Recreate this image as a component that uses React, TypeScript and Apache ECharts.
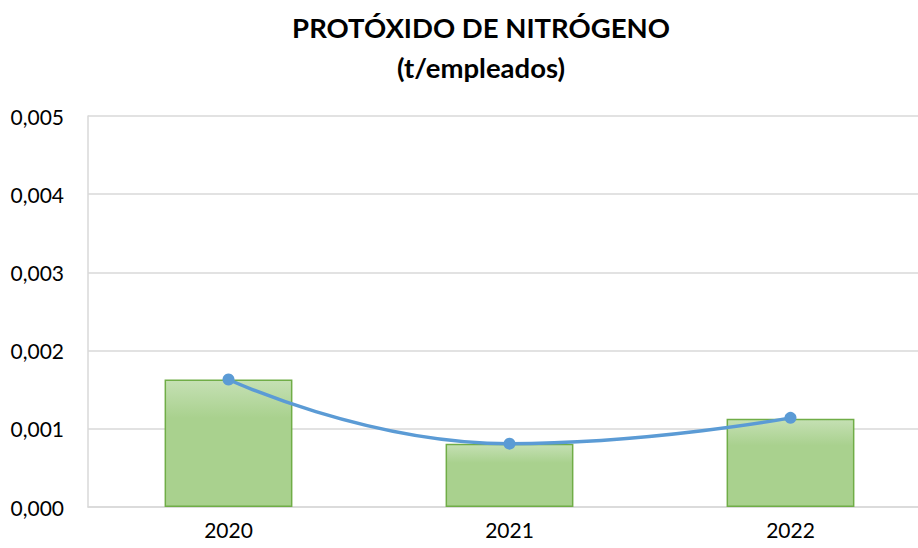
import React, { useEffect, useRef } from "react";
import * as echarts from "echarts";

const categories = ["2020", "2021", "2022"];
const barValues = [0.00163, 0.00081, 0.00113];
const lineValues = [0.00163, 0.00081, 0.00114];
const titleLines = ["PROTÓXIDO DE NITRÓGENO", "(t/empleados)"];

export default function App() {
  const ref = useRef<HTMLDivElement>(null);
  useEffect(() => {
    const chart = echarts.init(ref.current!, null, { renderer: "svg" });
    chart.setOption({
      animation: false,
      backgroundColor: "#ffffff",
      title: {
        text: titleLines.join("\n"),
        left: 476,
        textAlign: "center",
        top: 2,
        textStyle: {
          fontFamily: "Lato, 'Open Sans', sans-serif",
          fontWeight: "bold",
          fontSize: 27.5,
          lineHeight: 40,
          color: "#000000",
        },
      },
      grid: { left: 88, right: 0, top: 116, bottom: 41 },
      xAxis: {
        type: "category",
        data: categories,
        axisTick: { show: false },
        axisLine: { lineStyle: { color: "#D9D9D9", width: 1.5 } },
        axisLabel: {
          fontFamily: "Lato, 'Open Sans', sans-serif",
          fontSize: 21,
          color: "#000000",
          margin: 12,
        },
      },
      yAxis: {
        type: "value",
        min: 0,
        max: 0.005,
        interval: 0.001,
        axisLine: { show: true, lineStyle: { color: "#D9D9D9", width: 1.5 } },
        splitLine: { lineStyle: { color: "#D9D9D9", width: 1.5 } },
        axisLabel: {
          fontFamily: "Lato, 'Open Sans', sans-serif",
          fontSize: 21,
          color: "#000000",
          margin: 24,
          formatter: (v: number) => v.toFixed(3).replace(".", ","),
        },
      },
      series: [
        {
          type: "bar",
          data: barValues,
          barWidth: "45.5%",
          itemStyle: {
            borderColor: "#70AD47",
            borderWidth: 1.5,
            color: new echarts.graphic.LinearGradient(0, 0, 0, 1, [
              { offset: 0, color: "#C5E0B4" },
              { offset: 0.3, color: "#A9D18E" },
              { offset: 1, color: "#A9D18E" },
            ]),
          },
        },
        {
          type: "line",
          data: lineValues,
          smooth: 0.5,
          symbol: "circle",
          symbolSize: 12,
          lineStyle: { color: "#5B9BD5", width: 3.5 },
          itemStyle: { color: "#5B9BD5" },
        },
      ],
    });
    return () => chart.dispose();
  }, []);
  return (
    <div
      style={{
        position: "fixed",
        left: 0,
        top: 0,
        width: 918,
        height: 548,
        overflow: "hidden",
        background: "#ffffff",
      }}
    >
      <div ref={ref} style={{ width: 931, height: 548 }} />
    </div>
  );
}
